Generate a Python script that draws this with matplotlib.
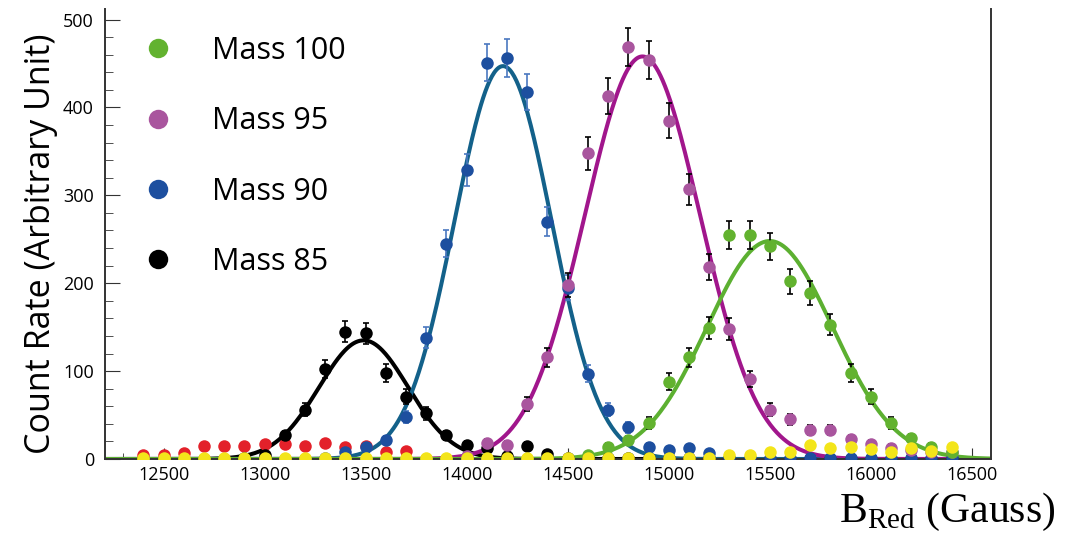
import numpy as np
import matplotlib
matplotlib.use('Agg')
import matplotlib.pyplot as plt
from matplotlib.lines import Line2D
from matplotlib.ticker import MultipleLocator

# field values (Gauss), one point every 100 G
field = np.arange(12400, 16500, 100)

mass85 = [0, 0, 0, 0, 0, 1, 5, 27, 56, 102, 145, 143, 98, 71, 52, 27, 16, 12, 3, 15,
          6, 1, 1, 1, 1, 1, 1, 1, 1, 1, 0, 0, 0, 0, 0, 0, 0, 0, 0, 0, 0]
mass90 = [0, 0, 0, 0, 0, 0, 0, 0, 0, 1, 8, 14, 22, 48, 138, 245, 329, 451, 456, 418,
          270, 195, 97, 56, 36, 14, 10, 12, 7, 1, 1, 1, 1, 1, 1, 1, 1, 1, 1, 1, 1]
mass95 = [0, 0, 0, 0, 0, 0, 0, 0, 0, 0, 0, 0, 0, 0, 0, 0, 3, 18, 16, 63,
          116, 198, 348, 413, 469, 454, 385, 307, 219, 148, 91, 56, 45, 33, 33, 23, 17, 13, 10, 8, 8]
mass100 = [0, 0, 0, 0, 0, 0, 0, 0, 0, 0, 0, 0, 0, 0, 0, 0, 0, 0, 0, 0,
           0, 0, 5, 14, 22, 41, 88, 116, 149, 255, 255, 242, 202, 189, 153, 98, 71, 41, 24, 14, 8]
red_pts = [4, 4, 7, 15, 15, 15, 17, 17, 15, 18, 14, 15, 8, 9, 0, 0, 0, 0, 0, 0,
           0, 0, 0, 0, 0, 0, 0, 0, 0, 0, 0, 0, 0, 0, 0, 0, 0, 0, 0, 0, 0]
yellow_pts = [1, 1, 1, 1, 1, 1, 1, 1, 1, 1, 1, 1, 1, 1, 1, 1, 1, 1, 1, 1,
              1, 1, 1, 1, 1, 1, 1, 1, 1, 5, 5, 8, 8, 16, 12, 14, 11, 8, 12, 9, 14]

# gaussian fits: amplitude, centre, sigma
fits = {
    'Mass 85': (135, 13490, 220),
    'Mass 90': (447, 14180, 240),
    'Mass 95': (458, 14870, 285),
    'Mass 100': (248, 15500, 310),
}

plt.rcParams['font.family'] = ['Open Sans', 'DejaVu Sans']
plt.rcParams['mathtext.fontset'] = 'custom'
plt.rcParams['mathtext.rm'] = 'Liberation Serif'

fig = plt.figure(figsize=(10.66, 5.41), dpi=100)
ax = fig.add_axes([105 / 1066, 1 - 459 / 541, 886 / 1066, 450 / 541])

xs = np.linspace(12210, 16595, 800)
line_cols = {'Mass 85': '#000000', 'Mass 90': '#13618a', 'Mass 95': '#a1168c', 'Mass 100': '#5cb031'}
for name in ['Mass 85', 'Mass 90', 'Mass 95', 'Mass 100']:
    A, mu, s = fits[name]
    ax.plot(xs, A * np.exp(-(xs - mu) ** 2 / (2 * s ** 2)), color=line_cols[name], lw=2.9, zorder=2)

ms = 9
ax.plot(field, red_pts, 'o', color='#e3212a', ms=ms, mec='none', zorder=3)
series = [(mass85, 'k', 'k'), (mass90, '#1d4f9f', '#4a78c0'),
          (mass95, '#a9559e', 'k'), (mass100, '#62b22f', 'k')]
for vals, col, ecol in series:
    v = np.array(vals, dtype=float)
    ax.errorbar(field, v, yerr=np.sqrt(v), fmt='o', color=col, ms=ms, mec='none',
                ecolor=ecol, elinewidth=1.2, capsize=2.5, capthick=1.2, zorder=3)
ax.plot(field, yellow_pts, 'o', color='#f3e51a', ms=ms, mec='none', zorder=4)

ax.set_xlim(12210, 16595)
ax.set_ylim(0, 512)
ax.xaxis.set_major_locator(MultipleLocator(500))
ax.xaxis.set_minor_locator(MultipleLocator(100))
ax.yaxis.set_major_locator(MultipleLocator(100))
ax.yaxis.set_minor_locator(MultipleLocator(20))
ax.tick_params(axis='both', which='both', direction='in', labelsize=13, color='#333333')
ax.tick_params(axis='y', which='major', length=11, pad=8)
ax.tick_params(axis='y', which='minor', length=6)
ax.tick_params(axis='x', which='major', length=8, pad=5)
ax.tick_params(axis='x', which='minor', length=4)
ax.spines['top'].set_visible(False)
for sp in ['left', 'bottom', 'right']:
    ax.spines[sp].set_linewidth(1.4)
    ax.spines[sp].set_color('#333333')

ax.set_ylabel('Count Rate (Arbitrary Unit)', fontsize=24.5)
ax.yaxis.set_label_coords(-0.053, 0.478)
fig.text(1055 / 1066, 1 - 522 / 541, r'B$_{\mathrm{Red}}$ (Gauss)', fontsize=30,
         family='Liberation Serif', ha='right', va='baseline')

handles = [Line2D([], [], ls='none', marker='o', ms=14, mec='none', color=c, label=l)
           for c, l in [('#62b22f', 'Mass 100'), ('#a9559e', 'Mass 95'),
                        ('#1d4f9f', 'Mass 90'), ('k', 'Mass 85')]]
ax.legend(handles=handles, loc='upper left', bbox_to_anchor=(0.0429, 0.940), frameon=False,
          borderaxespad=0, borderpad=0, fontsize=22, labelspacing=1.32,
          handletextpad=1.25, handlelength=1.0)

fig.savefig('out.png', dpi=100)
